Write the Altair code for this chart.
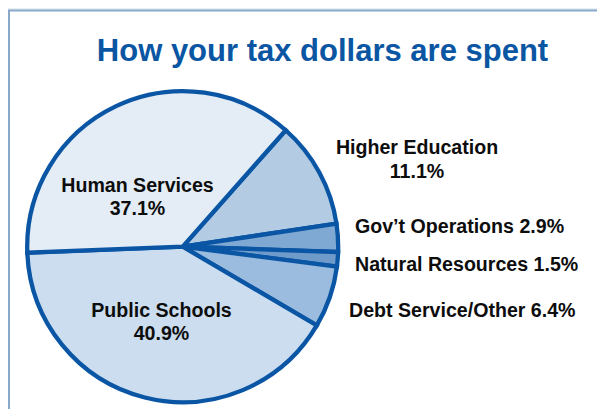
import altair as alt
import pandas as pd
import math

# ---- data ----
categories = ["Higher Education", "Gov\u2019t Operations", "Natural Resources",
              "Debt Service/Other", "Public Schools", "Human Services"]
values = [11.1, 2.9, 1.5, 6.4, 40.9, 37.1]
colors = ["#b3cbe3", "#7fa8d2", "#6e9bca", "#9bbcdf", "#cbddee", "#e4edf6"]
title_text = "How your tax dollars are spent"

df = pd.DataFrame({
    "category": categories,
    "value": values,
    "order": list(range(len(categories))),
})
df["pct"] = [f"{v:.1f}%" for v in values]

W, H = 589, 401
CX, CY, R = 174.7, 238.7, 155.5
start = math.radians(41.5)

panel = alt.Chart(pd.DataFrame({"a": [0]})).mark_rect(
    fill="white", stroke="#88a9c9", strokeWidth=2
).encode(x=alt.value(1), x2=alt.value(W + 10), y=alt.value(2.5), y2=alt.value(H + 10))

pie = alt.Chart(df).mark_arc(
    radius=R, stroke="#0a56a5", strokeWidth=4.3, strokeJoin="miter"
).encode(
    theta=alt.Theta("value:Q", stack=True,
                    scale=alt.Scale(domain=[0, sum(values)], range=[start, start + 2 * math.pi])),
    color=alt.Color("category:N", scale=alt.Scale(domain=categories, range=colors), legend=None),
    order=alt.Order("order:Q"),
    x=alt.value(CX), y=alt.value(CY),
)

title = alt.Chart(pd.DataFrame({"t": [title_text]})).mark_text(
    font="Liberation Sans", fontWeight="bold", fontSize=31, color="#0a56a3",
    align="center", baseline="alphabetic"
).encode(text="t:N", x=alt.value(314.5), y=alt.value(53))

font = dict(font="Liberation Sans", fontWeight="bold", fontSize=19.6, color="#0d0d0d",
            baseline="alphabetic")

def lbl(i, x, y, align="center", two_lines=True, lh=23.5):
    rows = []
    if two_lines:
        rows.append(alt.Chart(df.iloc[[i]]).mark_text(align=align, **font).encode(
            text="category:N", x=alt.value(x), y=alt.value(y)))
        rows.append(alt.Chart(df.iloc[[i]]).mark_text(align=align, **font).encode(
            text="pct:N", x=alt.value(x), y=alt.value(y + lh)))
    else:
        d = df.iloc[[i]].copy()
        d["full"] = d["category"] + " " + d["pct"]
        rows.append(alt.Chart(d).mark_text(align=align, **font).encode(
            text="full:N", x=alt.value(x), y=alt.value(y)))
    return rows

layers = [panel, pie, title]
layers += lbl(5, 129.5, 183.7)            # Human Services
layers += lbl(4, 153.5, 308.7)            # Public Schools
layers += lbl(0, 409, 146.3, lh=23.7)     # Higher Education
layers += lbl(1, 347, 224.7, align="left", two_lines=False)
layers += lbl(2, 347, 262.7, align="left", two_lines=False)
layers += lbl(3, 341, 309, align="left", two_lines=False)

chart = alt.layer(*layers).properties(
    width=W, height=H, padding=0, autosize=alt.AutoSizeParams(type="none"),
    background="#e9eff5"
).configure_view(stroke=None)

chart.save("out.html", embed_options={"renderer": "svg", "actions": False})
